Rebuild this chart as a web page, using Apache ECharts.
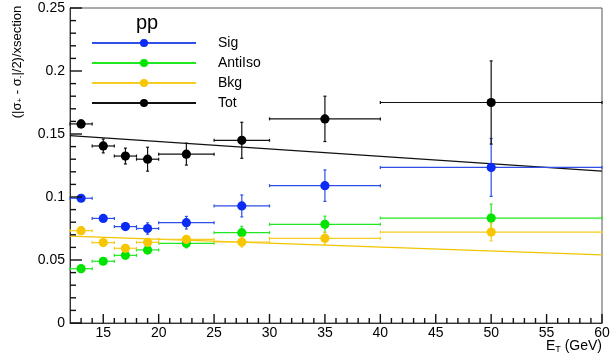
<!DOCTYPE html>
<html>
<head>
<meta charset="utf-8">
<script src="https://cdn.jsdelivr.net/npm/echarts@6/dist/echarts.min.js"></script>
<style>html,body{margin:0;padding:0;background:#fff}#c{width:616px;height:355px}</style>
</head>
<body>
<div id="c"></div>
<script>
// Bin centres and half-widths (E_T, GeV)
var etCenters = [13, 15, 17, 19, 22.5, 27.5, 35, 50];
var etHalfWidths = [1, 1, 1, 1, 2.5, 2.5, 5, 10];

// Series values and errors
var sigValues = [0.099, 0.083, 0.0765, 0.075, 0.0796, 0.0929, 0.109, 0.1235];
var sigErrors = [0.002, 0.002, 0.003, 0.0045, 0.005, 0.0087, 0.0125, 0.023];
var antiIsoValues = [0.0431, 0.049, 0.0537, 0.058, 0.0632, 0.0717, 0.0783, 0.0833];
var antiIsoErrors = [0.002, 0.002, 0.0025, 0.003, 0.0035, 0.005, 0.0065, 0.011];
var bkgValues = [0.0733, 0.0638, 0.0593, 0.064, 0.0664, 0.0643, 0.0672, 0.0722];
var bkgErrors = [0.003, 0.002, 0.002, 0.003, 0.003, 0.004, 0.005, 0.007];
var totValues = [0.158, 0.1405, 0.1325, 0.130, 0.134, 0.145, 0.162, 0.175];
var totErrors = [0.003, 0.0055, 0.0063, 0.0095, 0.0087, 0.0143, 0.018, 0.033];

// Linear fits (endpoints over the fit range)
var totFitX = [12, 60];
var totFitY = [0.1487, 0.1206];
var bkgFitX = [12, 60];
var bkgFitY = [0.069, 0.054];

// Axis ranges and ticks
var xRange = [12, 60];
var yRange = [0, 0.25];
var xMajorTicks = [15, 20, 25, 30, 35, 40, 45, 50, 55, 60];
var xMinorTicks = [13, 14, 16, 17, 18, 19, 21, 22, 23, 24, 26, 27, 28, 29, 31, 32, 33, 34, 36, 37, 38, 39,
  41, 42, 43, 44, 46, 47, 48, 49, 51, 52, 53, 54, 56, 57, 58, 59];
var yMajorTicks = [0, 0.05, 0.1, 0.15, 0.2, 0.25];
var yMinorTicks = [0.01, 0.02, 0.03, 0.04, 0.06, 0.07, 0.08, 0.09, 0.11, 0.12, 0.13, 0.14,
  0.16, 0.17, 0.18, 0.19, 0.21, 0.22, 0.23, 0.24];

var names = ['Sig', 'AntiIso', 'Bkg', 'Tot'];
var markerColors = ['#0a2cf5', '#00e400', '#f7c600', '#000000'];
var barColors = ['#2e4ee8', '#22e822', '#f5cc20', '#111111'];
var valuesList = [sigValues, antiIsoValues, bkgValues, totValues];
var errorsList = [sigErrors, antiIsoErrors, bkgErrors, totErrors];

function buildData(vals, errs) {
  return etCenters.map(function (x, i) {
    return [x, vals[i], x - etHalfWidths[i], x + etHalfWidths[i], vals[i] - errs[i], vals[i] + errs[i]];
  });
}

function makeRender(mColor, bColor) {
  return function (params, api) {
    var c = api.coord([api.value(0), api.value(1)]);
    var l = api.coord([api.value(2), api.value(1)]);
    var r = api.coord([api.value(3), api.value(1)]);
    var lo = api.coord([api.value(0), api.value(4)]);
    var hi = api.coord([api.value(0), api.value(5)]);
    var ls = { stroke: bColor, lineWidth: 1.2 };
    return {
      type: 'group',
      children: [
        { type: 'line', shape: { x1: l[0], y1: c[1], x2: r[0], y2: c[1] }, style: ls },
        { type: 'line', shape: { x1: l[0], y1: c[1] - 1.5, x2: l[0], y2: c[1] + 1.5 }, style: ls },
        { type: 'line', shape: { x1: r[0], y1: c[1] - 1.5, x2: r[0], y2: c[1] + 1.5 }, style: ls },
        { type: 'line', shape: { x1: c[0], y1: lo[1], x2: c[0], y2: hi[1] }, style: ls },
        { type: 'line', shape: { x1: c[0] - 1.5, y1: lo[1], x2: c[0] + 1.5, y2: lo[1] }, style: ls },
        { type: 'line', shape: { x1: c[0] - 1.5, y1: hi[1], x2: c[0] + 1.5, y2: hi[1] }, style: ls },
        { type: 'circle', shape: { cx: c[0], cy: c[1], r: 4.6 }, style: { fill: mColor } }
      ]
    };
  };
}

// One custom series that draws all inside tick marks through the axis scales.
// Each item: [x, y, orientation(0 = x tick, 1 = y tick), length]
var tickItems = [];
xMajorTicks.forEach(function (v) { tickItems.push([v, yRange[0], 0, 9]); });
xMinorTicks.forEach(function (v) { tickItems.push([v, yRange[0], 0, 5]); });
yMajorTicks.forEach(function (v) { tickItems.push([xRange[0], v, 1, 12]); });
yMinorTicks.forEach(function (v) { tickItems.push([xRange[0], v, 1, 6]); });

function renderTick(params, api) {
  var p = api.coord([api.value(0), api.value(1)]);
  var len = api.value(3);
  var ls = { stroke: '#111', lineWidth: 1.4 };
  var shape = api.value(2) === 0
    ? { x1: p[0], y1: p[1], x2: p[0], y2: p[1] - len }
    : { x1: p[0], y1: p[1], x2: p[0] + len, y2: p[1] };
  return { type: 'group', children: [ { type: 'line', shape: shape, style: ls } ] };
}

var series = [];
series.push({ type: 'line', xAxisIndex: 0, yAxisIndex: 0, data: totFitX.map(function (x, i) { return [x, totFitY[i]]; }),
  symbol: 'none', lineStyle: { color: '#111', width: 1.3 }, silent: true, z: 2 });
series.push({ type: 'line', xAxisIndex: 0, yAxisIndex: 0, data: bkgFitX.map(function (x, i) { return [x, bkgFitY[i]]; }),
  symbol: 'none', lineStyle: { color: '#f2c400', width: 1.3 }, silent: true, z: 2 });
names.forEach(function (n, k) {
  series.push({ type: 'line', name: n, data: [], symbol: 'circle', symbolSize: 10,
    itemStyle: { color: markerColors[k] }, lineStyle: { color: barColors[k], width: 1.5 } });
});
names.forEach(function (n, k) {
  series.push({ type: 'custom', xAxisIndex: 0, yAxisIndex: 0, data: buildData(valuesList[k], errorsList[k]),
    renderItem: makeRender(markerColors[k], barColors[k]), z: 3 + k, clip: false });
});
series.push({ type: 'custom', name: 'ticks', xAxisIndex: 0, yAxisIndex: 0, data: tickItems,
  dimensions: ['x', 'y', 'o', 'len'], encode: { x: 0, y: 1 },
  renderItem: renderTick, z: 8, clip: false });

var font = 'Liberation Sans, Arial, Helvetica, sans-serif';
var chart = echarts.init(document.getElementById('c'));
chart.setOption({
  animation: false,
  title: { text: 'pp', left: 147, top: 13, textAlign: 'center', padding: 0,
    textStyle: { fontFamily: font, fontSize: 20, fontWeight: 'normal', color: '#000' } },
  legend: {
    orient: 'vertical', left: 91, top: 35, padding: 0, itemWidth: 104, itemHeight: 10, itemGap: 4,
    data: names, selectedMode: false,
    textStyle: { fontFamily: font, fontSize: 14, color: '#000', padding: [0, 0, 0, 17], lineHeight: 16 }
  },
  grid: { left: 70, right: 14, top: 8, bottom: 32, show: true, borderColor: '#555', borderWidth: 1 },
  xAxis: [
    { type: 'value', min: xRange[0], max: xRange[1], position: 'bottom',
      axisLine: { show: true, onZero: false, lineStyle: { color: '#333', width: 1 } },
      axisTick: { show: false },
      axisLabel: { customValues: xMajorTicks, fontFamily: font, fontSize: 14, color: '#000', margin: 3 },
      splitLine: { show: false } }
  ],
  yAxis: [
    { type: 'value', min: yRange[0], max: yRange[1], position: 'left',
      axisLine: { show: true, onZero: false, lineStyle: { color: '#333', width: 1 } },
      axisTick: { show: false },
      axisLabel: { customValues: yMajorTicks, fontFamily: font, fontSize: 14, color: '#000', margin: 5,
        formatter: function (v) { return String(parseFloat(Number(v).toFixed(2))); } },
      splitLine: { show: false } }
  ],
  graphic: [
    { type: 'text', x: 17, y: 62, rotation: Math.PI / 2, origin: [0, 0],
      style: { text: '(|σ{sub|+} - σ{sub|-}|/2)/xsection', fontFamily: font, fontSize: 13, fill: '#000',
        align: 'center', verticalAlign: 'middle',
        rich: { sub: { fontSize: 8, verticalAlign: 'bottom', padding: [6, 0, 0, 0], fontFamily: font } } } },
    { type: 'text', right: 14, top: 339,
      style: { text: 'E{sub|T} (GeV)', fontFamily: font, fontSize: 14, fill: '#000',
        rich: { sub: { fontSize: 9, padding: [7, 0, 0, 0], fontFamily: font } } } }
  ],
  series: series
});
</script>
</body>
</html>
